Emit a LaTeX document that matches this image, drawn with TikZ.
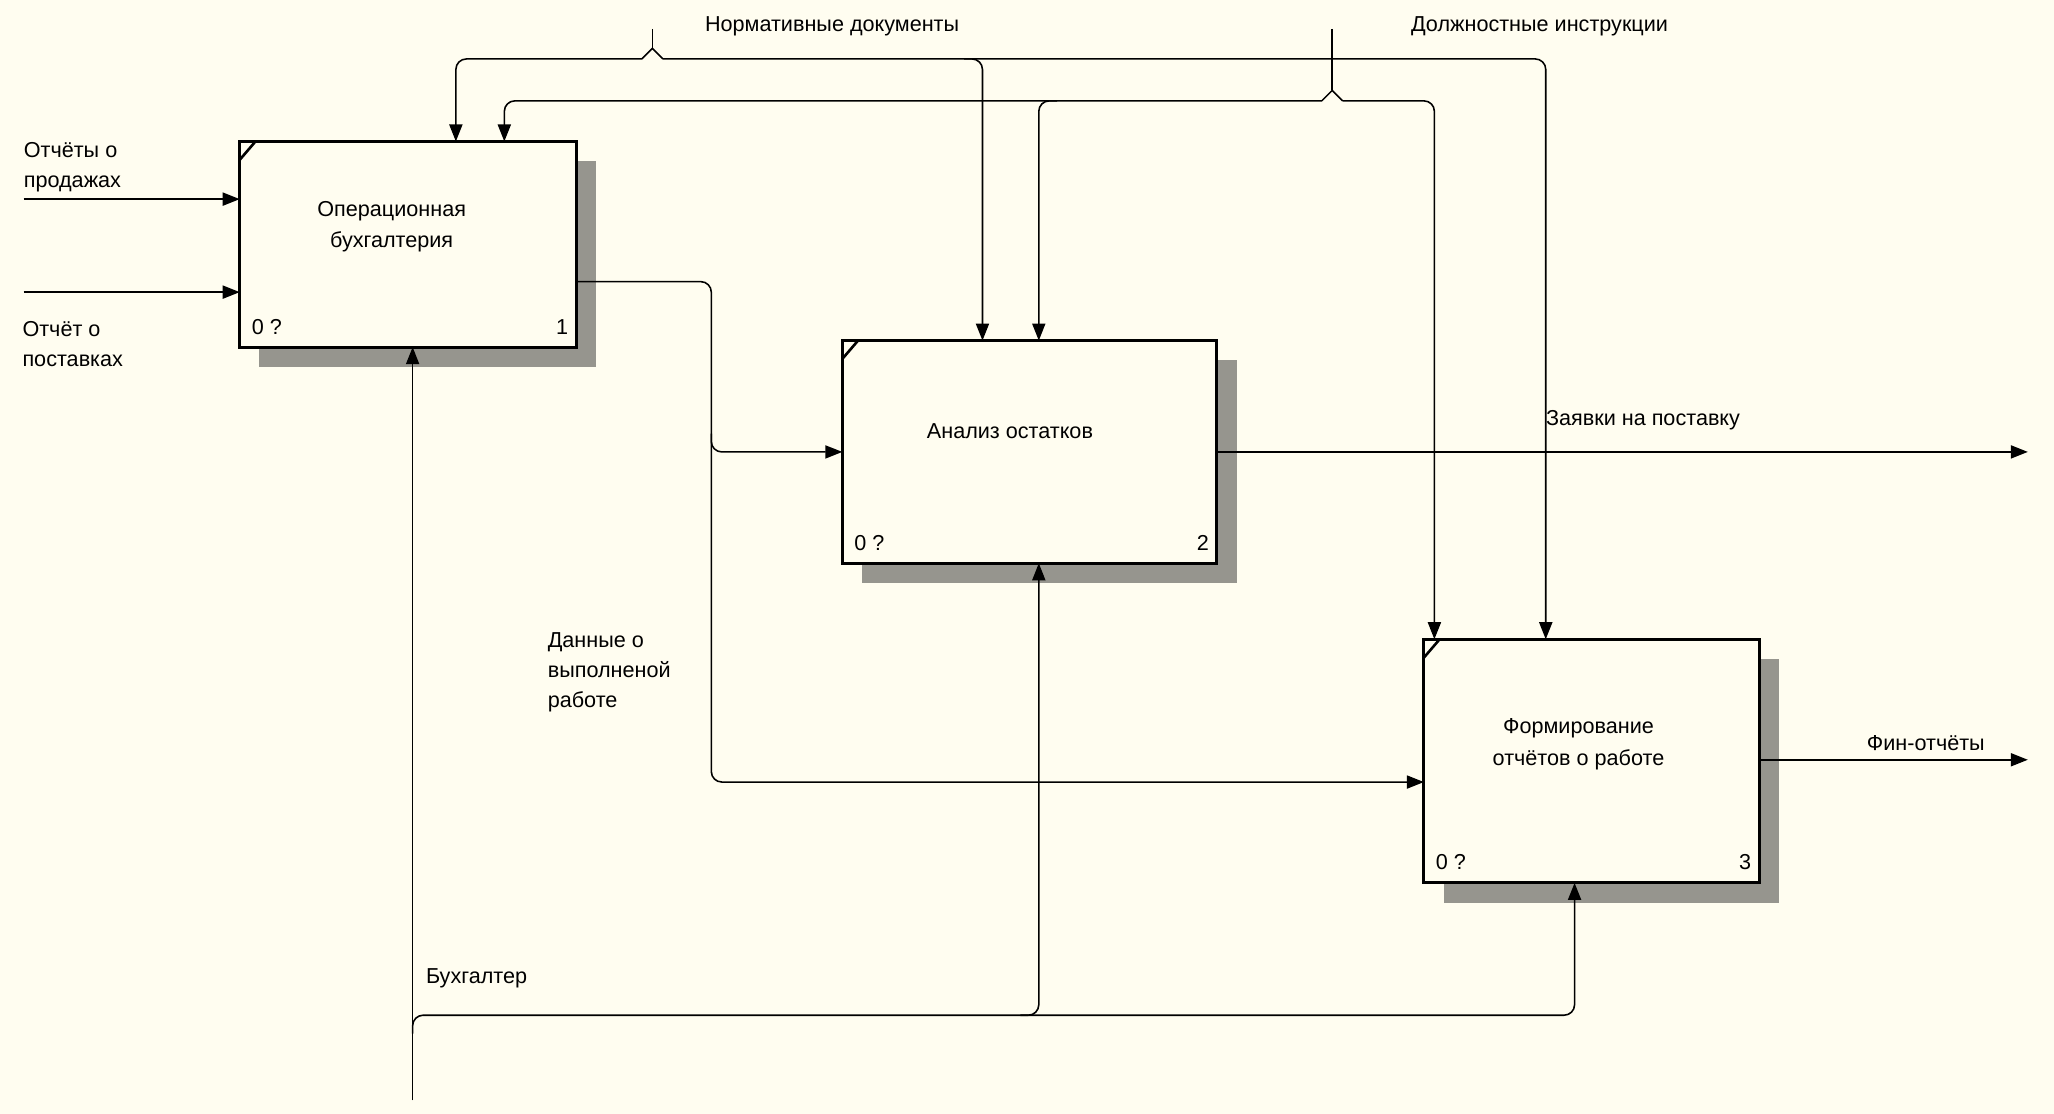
\documentclass[tikz,border=0pt]{standalone}
\usepackage{fontspec}
\setmainfont{Liberation Sans}
\usetikzlibrary{arrows.meta,calc,shadows}
\definecolor{bgcol}{RGB}{255,253,240}
\definecolor{shcol}{RGB}{150,149,142}
\begin{document}
\begin{tikzpicture}[x=1pt,y=-1pt,
  txt/.style={inner sep=0pt, font=\fontsize{16.5}{23}\selectfont, align=left},
  ctxt/.style={inner sep=0pt, font=\fontsize{16.5}{24}\selectfont, align=center, anchor=base},
  box/.style={draw, line width=2.3pt, fill=bgcol, outer sep=0pt, inner sep=0pt, anchor=north west,
    general shadow={fill=shcol, shadow xshift=15pt, shadow yshift=-15pt}},
  arr/.style={line width=1.2pt, rounded corners=8pt, -{Triangle[length=13pt,width=10pt]}},
  ln/.style={line width=1.2pt, rounded corners=8pt},
  tick/.style={line width=2pt}
]
\useasboundingbox (0,0) rectangle (1568,850.4);
\fill[bgcol] (0,0) rectangle (1568,850.4);

% boxes
\node[box, minimum width=257pt, minimum height=157pt] (b1) at (183,108) {};
\node[box, minimum width=286pt, minimum height=170pt] (b2) at (643,260) {};
\node[box, minimum width=256pt, minimum height=186pt] (b3) at (1087,488) {};

\foreach \b/\n in {b1/1,b2/2,b3/3}{
  \draw[tick] ($(\b.north west)+(0,14)$) -- ($(\b.north west)+(12,0)$);
  \node[txt, anchor=base west] at ($(\b.south west)+(9,-10)$) {0 ?};
  \node[txt, anchor=base east] at ($(\b.south east)+(-6,-10)$) {\n};
}

\node[ctxt] (t1) at ($(b1.north west)+(116,81)$) {Операционная\\бухгалтерия};
\node[ctxt] (t2) at ($(b2.north west)+(128,75)$) {Анализ остатков};
\node[ctxt] (t3) at ($(b3.north west)+(118,96)$) {Формирование\\отчётов о работе};

% coordinates
\coordinate (nTop) at (498,22);
\coordinate (nJ) at (498,45);
\coordinate (n1) at (348,45);
\coordinate (n2) at (750,45);
\coordinate (n3) at (1180,45);
\coordinate (dTop) at (1017,22);
\coordinate (dJ) at (1017,77);
\coordinate (d1) at (385,77);
\coordinate (d2) at (793,77);
\coordinate (d3) at (1095,77);
\coordinate (i1) at (18,152);
\coordinate (i2) at (18,223);
\coordinate (o1) at (543,215);
\coordinate (o2) at (543,597);
\coordinate (e2) at (1548,345);
\coordinate (e3) at (1548,580);
\coordinate (m0) at (315,840);
\coordinate (m1) at (315,775);
\coordinate (m2) at (793,775);
\coordinate (m3) at (1202,775);

% controls: Нормативные документы
\draw[ln, rounded corners=0pt] (nTop) -- ($(nJ)+(0,-8)$);
\draw[ln, rounded corners=0pt] ($(nJ)+(-8,0)$) -- ($(nJ)+(0,-8)$) -- ($(nJ)+(8,0)$);
\draw[arr] ($(nJ)+(-8,0)$) -- (n1) -- (n1 |- b1.north);
\draw[arr] ($(nJ)+(8,0)$) -- (n3) -- (n3 |- b3.north);
\draw[arr] ($(n2)+(-14,0)$) -- (n2) -- (n2 |- b2.north);

% controls: Должностные инструкции
\draw[ln, rounded corners=0pt] (dTop) -- ($(dJ)+(0,-8)$);
\draw[ln, rounded corners=0pt] ($(dJ)+(-8,0)$) -- ($(dJ)+(0,-8)$) -- ($(dJ)+(8,0)$);
\draw[arr] ($(dJ)+(-8,0)$) -- (d1) -- (d1 |- b1.north);
\draw[arr] ($(dJ)+(8,0)$) -- (d3) -- (d3 |- b3.north);
\draw[arr] ($(d2)+(14,0)$) -- (d2) -- (d2 |- b2.north);

% inputs
\draw[arr] (i1) -- (i1 -| b1.west);
\draw[arr] (i2) -- (i2 -| b1.west);

% output of box 1
\draw[arr] (o1 -| b1.east) -- (o1) -- (o2) -- (o2 -| b3.west);
\draw[arr] ($(o1 |- b2.west)+(0,-14)$) -- (o1 |- b2.west) -- (b2.west);

% outputs
\draw[arr] (b2.east) -- (b2.east -| e2);
\draw[arr] (e3 -| b3.east) -- (e3);

% mechanism
\draw[arr] (m0) -- (m0 |- b1.south);
\draw[arr] ($(m1)+(0,14)$) -- (m1) -- (m3) -- (m3 |- b3.south);
\draw[arr] ($(m2)+(-14,0)$) -- (m2) -- (m2 |- b2.south);

% labels
\node[txt, anchor=base west] (lN) at (538,24) {Нормативные документы};
\node[txt, anchor=base west] (lD) at (1077,24) {Должностные инструкции};
\node[txt, anchor=base west] (lI1) at (18,143) {Отчёты о\\продажах};
\node[txt, anchor=base west] (lI2) at (17,280) {Отчёт о\\поставках};
\node[txt, anchor=base west] (lZ) at (1180,325) {Заявки на поставку};
\node[txt, anchor=base west] (lDa) at (418,540) {Данные о\\выполненой\\работе};
\node[txt, anchor=base west] (lF) at (1425,573) {Фин-отчёты};
\node[txt, anchor=base west] (lB) at (325,751) {Бухгалтер};
\end{tikzpicture}
\end{document}
